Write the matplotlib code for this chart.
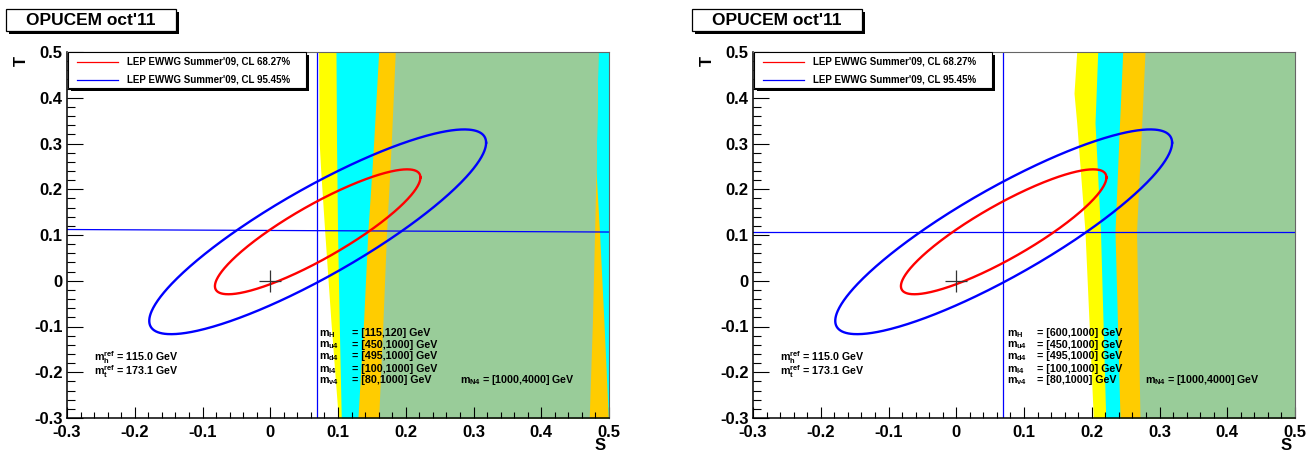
import numpy as np
import matplotlib
matplotlib.use("Agg")
import matplotlib.pyplot as plt
from matplotlib.patches import Rectangle
from matplotlib.lines import Line2D
from matplotlib.ticker import MultipleLocator, FixedLocator

plt.rcParams['font.family'] = ['Liberation Sans', 'DejaVu Sans']
plt.rcParams['font.weight'] = 'bold'
plt.rcParams['mathtext.fontset'] = 'custom'
plt.rcParams['mathtext.rm'] = 'Liberation Sans:bold'
plt.rcParams['mathtext.it'] = 'Liberation Sans:bold'
plt.rcParams['mathtext.bf'] = 'Liberation Sans:bold'
plt.rcParams['mathtext.sf'] = 'Liberation Sans:bold'

# ---------------- data ----------------
title = "OPUCEM oct'11"
legend_labels = ["LEP EWWG Summer'09, CL 68.27%", "LEP EWWG Summer'09, CL 95.45%"]
cl_colors = ['#ff0000', '#0000ff']
cl_dchi2 = [2.30, 6.18]
fit_S0, fit_T0 = 0.070, 0.107
fit_sigS, fit_sigT, fit_rho = 0.100, 0.090, 0.87
sm_point = (0.0, 0.0)
vline_S = 0.069
hline_S = [-0.3, 0.5]
hline_T = {'left': [0.112, 0.1065], 'right': [0.1066, 0.1066]}

xtick_vals = [-0.3, -0.2, -0.1, 0.0, 0.1, 0.2, 0.3, 0.4, 0.5]
xtick_labels = ["-0.3", "-0.2", "-0.1", "0", "0.1", "0.2", "0.3", "0.4", "0.5"]
ytick_vals = [-0.3, -0.2, -0.1, 0.0, 0.1, 0.2, 0.3, 0.4, 0.5]
ytick_labels = ["-0.3", "-0.2", "-0.1", "0", "0.1", "0.2", "0.3", "0.4", "0.5"]

# band boundaries (S values at the listed T values)
left_T = [0.5, 0.3, 0.24, 0.107, -0.09, -0.3]
left_yellow_L = [0.0713, 0.0723, 0.0745, 0.0804, 0.0896, 0.1004]
left_cyan_L = [0.0970, 0.0978, 0.0983, 0.0993, 0.1018, 0.1048]
left_orange_L = [0.1600, 0.1525, 0.1500, 0.1440, 0.1377, 0.1294]
left_green_L = [0.1845, 0.1786, 0.1765, 0.1717, 0.1663, 0.1600]
left_green_R = [0.4837, 0.4815, 0.4808, 0.4787, 0.4755, 0.4708]
left_orange_R = [0.4837, 0.4815, 0.4808, 0.4860, 0.4925, 0.4990]
left_cyan_R = [0.6, 0.6, 0.6, 0.6, 0.6, 0.6]
left_yellow_R = [0.6, 0.6, 0.6, 0.6, 0.6, 0.6]

right_T = [0.5, 0.41, 0.345, 0.107, -0.3]
right_yellow_L = [0.1778, 0.1738, 0.1778, 0.1900, 0.2023]
right_cyan_L = [0.2088, 0.2065, 0.2048, 0.2129, 0.2206]
right_orange_L = [0.2457, 0.2430, 0.2410, 0.2343, 0.2417]
right_green_L = [0.2786, 0.2758, 0.2738, 0.2661, 0.2712]
right_R = [0.6, 0.6, 0.6, 0.6, 0.6]

band_colors = {'yellow': '#ffff00', 'cyan': '#00ffff', 'orange': '#ffcc00', 'green': '#99cc99'}

param_names = [r"$m_{H}$", r"$m_{u4}$", r"$m_{d4}$", r"$m_{l4}$", r"$m_{ν4}$"]
left_param_values = ["= [115,120] GeV", "= [450,1000] GeV", "= [495,1000] GeV",
                     "= [100,1000] GeV", "= [80,1000] GeV"]
right_param_values = ["= [600,1000] GeV", "= [450,1000] GeV", "= [495,1000] GeV",
                      "= [100,1000] GeV", "= [80,1000] GeV"]
param_T = [-0.1208, -0.1463, -0.1717, -0.1988, -0.2242]
n4_text = r"$m_{N4}$ = [1000,4000] GeV"
ref_texts = [r"$m_{h}^{ref}$ = 115.0 GeV", r"$m_{t}^{ref}$ = 173.1 GeV"]
ref_T = [-0.1747, -0.2060]

# ---------------- figure ----------------
W, H = 1315, 454
fig = plt.figure(figsize=(W / 100, H / 100), dpi=100)


def frect(x0, y0, x1, y1):
    return [x0 / W, 1 - y1 / H, (x1 - x0) / W, (y1 - y0) / H]


def fpt(x, y):
    return (x / W, 1 - y / H)


panels = [
    dict(px=67, key='left', T=left_T,
         bands=[('yellow', left_yellow_L, left_yellow_R), ('cyan', left_cyan_L, left_cyan_R),
                ('orange', left_orange_L, left_orange_R), ('green', left_green_L, left_green_R)],
         pvals=left_param_values, pS=0.0713, eqS=0.121, n4S=0.2804),
    dict(px=753, key='right', T=right_T,
         bands=[('yellow', right_yellow_L, right_R), ('cyan', right_cyan_L, right_R),
                ('orange', right_orange_L, right_R), ('green', right_green_L, right_R)],
         pvals=right_param_values, pS=0.0745, eqS=0.1197, n4S=0.2786),
]

tt = np.linspace(0, 2 * np.pi, 500)
phi = np.arccos(fit_rho)

for p in panels:
    x0 = p['px']
    ax = fig.add_axes(frect(x0, 52, x0 + 542, 418))
    ax.set_xlim(-0.3, 0.5)
    ax.set_ylim(-0.3, 0.5)

    for name, lo, hi in p['bands']:
        ax.fill_betweenx(p['T'], lo, hi, color=band_colors[name], lw=0, zorder=1)

    ax.axvline(vline_S, color='#0000ff', lw=0.9, zorder=3)
    ax.plot(hline_S, hline_T[p['key']], color='#0000ff', lw=0.9, zorder=3)

    for dchi2, col in zip(cl_dchi2, cl_colors):
        r = np.sqrt(dchi2)
        S = fit_S0 + r * fit_sigS * np.cos(tt)
        T = fit_T0 + r * fit_sigT * np.cos(tt - phi)
        ax.plot(S, T, color=col, lw=1.7, zorder=4)

    ax.plot([sm_point[0]], [sm_point[1]], marker='+', ms=16, mew=0.9,
            color='#333333', zorder=5)

    ax.xaxis.set_major_locator(FixedLocator(xtick_vals))
    ax.set_xticklabels(xtick_labels)
    ax.yaxis.set_major_locator(FixedLocator(ytick_vals))
    ax.set_yticklabels(ytick_labels)
    ax.xaxis.set_minor_locator(MultipleLocator(0.02))
    ax.yaxis.set_minor_locator(MultipleLocator(0.02))
    ax.tick_params(axis='x', which='major', direction='in', length=8, width=0.8,
                   labelsize=12, pad=5, top=False)
    ax.tick_params(axis='x', which='minor', direction='in', length=4, width=0.8, top=False)
    ax.tick_params(axis='y', which='major', direction='in', length=11.5, width=0.8,
                   labelsize=12, pad=3, right=False)
    ax.tick_params(axis='y', which='minor', direction='in', length=5.8, width=0.8, right=False)
    for lab in ax.get_xticklabels() + ax.get_yticklabels():
        lab.set_fontweight('bold')
    for s in ['left', 'bottom']:
        ax.spines[s].set_color('black')
        ax.spines[s].set_linewidth(1.1)
    for s in ['top', 'right']:
        ax.spines[s].set_color('#666666')
        ax.spines[s].set_linewidth(0.8)
    for sp in ax.spines.values():
        sp.set_zorder(6)

    # text annotations
    for name, val, Tv in zip(param_names, p['pvals'], param_T):
        ax.text(p['pS'], Tv, name, fontsize=7.7, fontweight='bold', va='baseline', zorder=7)
        ax.text(p['eqS'], Tv, val, fontsize=7.7, fontweight='bold', va='baseline', zorder=7)
    ax.text(p['n4S'], param_T[-1], n4_text, fontsize=7.7, fontweight='bold',
            va='baseline', zorder=7)
    for txt, Tv in zip(ref_texts, ref_T):
        ax.text(-0.2608, Tv, txt, fontsize=7.7, fontweight='bold', va='baseline', zorder=7)

    # axis titles
    fig.text(*fpt(x0 - 46, 61), "T", rotation=90, fontsize=12, fontweight='bold',
             ha='center', va='center')
    fig.text(*fpt(x0 + 533, 445), "S", fontsize=12, fontweight='bold',
             ha='center', va='center')

    # title box with shadow
    tx0, ty0, tx1, ty1 = x0 - 61, 9.5, x0 + 109, 30.5
    fig.patches.append(Rectangle(fpt(tx0 + 3, ty1 + 3), (tx1 - tx0) / W, (ty1 - ty0) / H,
                                 transform=fig.transFigure, facecolor='black',
                                 edgecolor='none', zorder=10))
    fig.patches.append(Rectangle(fpt(tx0, ty1), (tx1 - tx0) / W, (ty1 - ty0) / H,
                                 transform=fig.transFigure, facecolor='white',
                                 edgecolor='black', lw=0.9, zorder=11))
    fig.text(*fpt((tx0 + tx1) / 2, (ty0 + ty1) / 2 + 0.5), title, fontsize=12.5,
             fontweight='bold', ha='center', va='center', zorder=12)

    # legend box with shadow
    lx0, ly0, lx1, ly1 = x0 + 1, 52, x0 + 239, 88
    fig.patches.append(Rectangle(fpt(lx0 + 3, ly1 + 3), (lx1 - lx0) / W, (ly1 - ly0) / H,
                                 transform=fig.transFigure, facecolor='black',
                                 edgecolor='none', zorder=10))
    fig.patches.append(Rectangle(fpt(lx0, ly1), (lx1 - lx0) / W, (ly1 - ly0) / H,
                                 transform=fig.transFigure, facecolor='white',
                                 edgecolor='black', lw=0.8, zorder=11))
    for k, (lab, col) in enumerate(zip(legend_labels, cl_colors)):
        yy = 61.7 + k * 18.3
        fig.lines.append(Line2D([(x0 + 9.7) / W, (x0 + 51.3) / W], [1 - yy / H, 1 - yy / H],
                                transform=fig.transFigure, color=col, lw=0.9, zorder=12))
        fig.text(*fpt(x0 + 59.7, yy), lab, fontsize=7.0, fontweight='bold',
                 ha='left', va='center', zorder=12)

fig.savefig("out.png", dpi=100)
